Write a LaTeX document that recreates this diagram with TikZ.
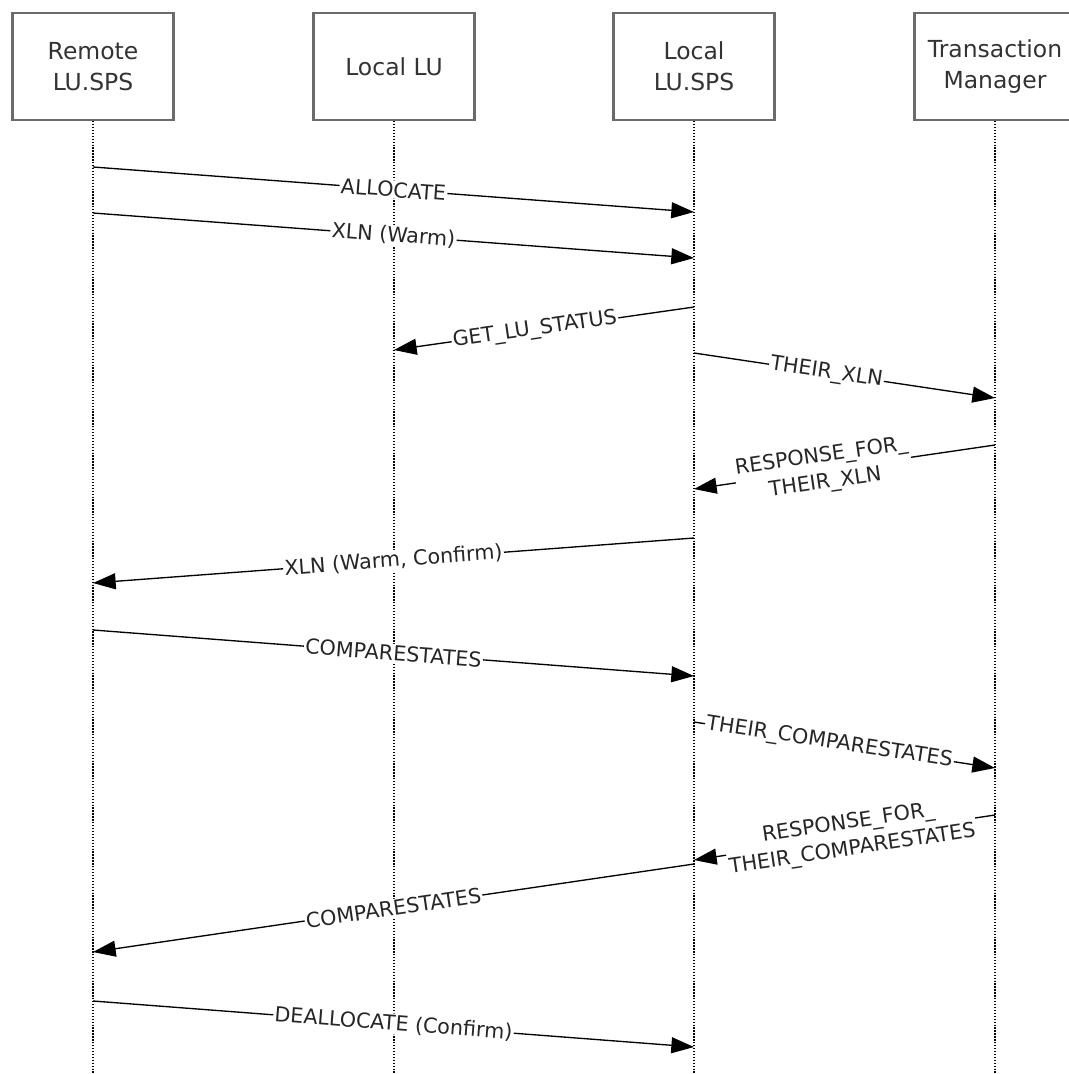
\documentclass[tikz,border=0pt]{standalone}
\usepackage{fontspec}
\setmainfont{DejaVu Sans}
\usetikzlibrary{arrows.meta}

\begin{document}
\begin{tikzpicture}[x=0.75pt,y=-0.75pt,
  caja/.style={draw=black!58,line width=1.8pt,minimum width=121pt,minimum height=80pt,
    inner sep=0pt,align=center,text=black!80,font=\fontsize{17.6}{23}\selectfont},
  vida/.style={line width=0.9pt,dash pattern=on 1pt off 1.2pt},
  msg/.style={line width=1pt,-{Triangle[length=17pt,width=12pt]}},
  etiq/.style={fill=white,sloped,inner sep=1pt,align=center,text=black!85,
    font=\fontsize{15.5}{20}\selectfont}]

\useasboundingbox (0,0) rectangle (1069,1074);

% Cajas
\node[caja] (remote)   at (93,66.5)  {Remote\\LU.SPS};
\node[caja] (locallu)  at (394,66.5) {Local LU};
\node[caja] (localsps) at (694,66.5) {Local\\LU.SPS};
\node[caja] (tm)       at (995,66.5) {Transaction\\Manager};

% Lineas de vida
\draw[vida] (remote.south)   -- (remote.south |- 0,1074);
\draw[vida] (locallu.south)  -- (locallu.south |- 0,1074);
\draw[vida] (localsps.south) -- (localsps.south |- 0,1074);
\draw[vida] (tm.south)       -- (tm.south |- 0,1074);

% Mensajes
\draw[msg] (remote |- 0,167) -- node[etiq] {ALLOCATE} (localsps |- 0,212);
\draw[msg] (remote |- 0,213) -- node[etiq] {XLN (Warm)} (localsps |- 0,258);
\draw[msg] (localsps |- 0,307) -- node[etiq,pos=0.53] {GET\_LU\_STATUS} (locallu |- 0,350);
\draw[msg] (localsps |- 0,353) -- node[etiq,pos=0.44] {THEIR\_XLN} (tm |- 0,398);
\draw[msg] (tm |- 0,445) -- node[etiq,pos=0.57] {RESPONSE\_FOR\_\\THEIR\_XLN} (localsps |- 0,489);
\draw[msg] (localsps |- 0,538) -- node[etiq] {XLN (Warm, Confirm)} (remote |- 0,583);
\draw[msg] (remote |- 0,630) -- node[etiq] {COMPARESTATES} (localsps |- 0,676);
\draw[msg] (localsps |- 0,722) -- node[etiq,pos=0.45] {THEIR\_COMPARESTATES} (tm |- 0,768);
\draw[msg] (tm |- 0,815) -- node[etiq,pos=0.48] {RESPONSE\_FOR\_\\THEIR\_COMPARESTATES} (localsps |- 0,860);
\draw[msg] (localsps |- 0,864) -- node[etiq] {COMPARESTATES} (remote |- 0,952);
\draw[msg] (remote |- 0,1001) -- node[etiq] {DEALLOCATE (Confirm)} (localsps |- 0,1047);

\end{tikzpicture}
\end{document}
